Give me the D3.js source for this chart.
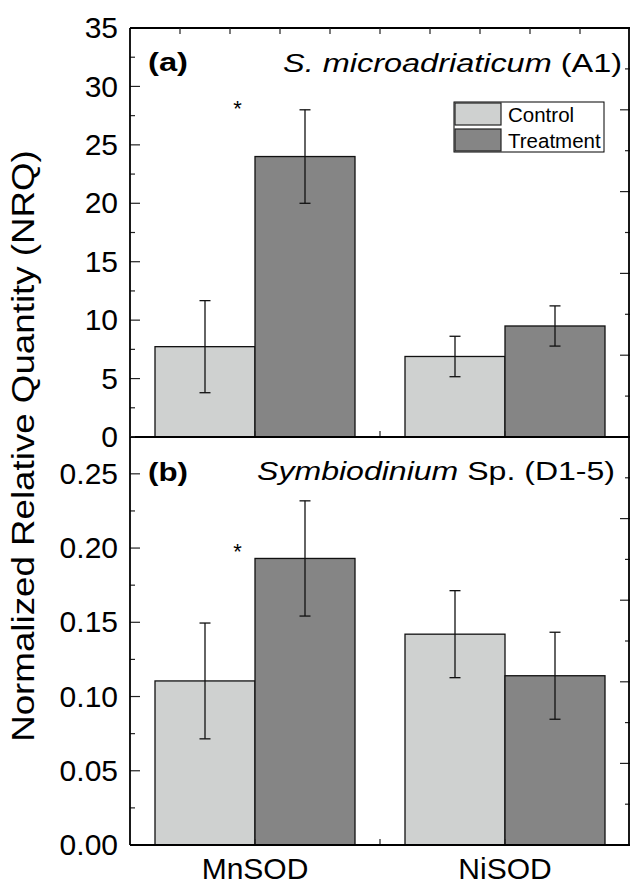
<!DOCTYPE html>
<html><head><meta charset="utf-8">
<script src="https://cdn.jsdelivr.net/npm/d3@7"></script>
<style>body{margin:0;background:#fff;} text{font-family:"Liberation Sans",Arial,sans-serif;}</style>
</head><body>
<svg id="c" width="630" height="885"></svg>
<script>
const categories = ["MnSOD", "NiSOD"];
const seriesNames = ["Control", "Treatment"];
// Panel (a) S. microadriaticum (A1)
const aControl = [7.73, 6.89];
const aControlErr = [3.94, 1.73];
const aTreatment = [24.0, 9.5];
const aTreatmentErr = [4.0, 1.72];
// Panel (b) Symbiodinium Sp. (D1-5)
const bControl = [0.1105, 0.142];
const bControlErr = [0.039, 0.0293];
const bTreatment = [0.193, 0.114];
const bTreatmentErr = [0.0388, 0.0293];
// tick labels
const aTicks = [0, 5, 10, 15, 20, 25, 30, 35];
const bTicks = [0, 0.05, 0.10, 0.15, 0.20, 0.25];
// significance markers (category index, value)
const aSig = [{cat: 0, value: 28.5}];
const bSig = [{cat: 0, value: 0.201}];

const svg = d3.select("#c");
const colors = {Control: "#cfd1d0", Treatment: "#858585"};
const L = 130, R = 630;
const x = d3.scaleLinear().domain([0.5, 2.5]).range([L, R]);
const barW = 0.4;

function panel(cfg) {
  const y = d3.scaleLinear().domain(cfg.domain).range([cfg.bottom, cfg.top]);
  const g = svg.append("g");
  const sets = [
    {name: "Control", vals: cfg.control, errs: cfg.controlErr, off: -barW},
    {name: "Treatment", vals: cfg.treatment, errs: cfg.treatmentErr, off: 0}
  ];
  sets.forEach(s => {
    g.selectAll(null).data(categories).enter().append("rect")
      .attr("x", (d, i) => x(i + 1 + s.off))
      .attr("width", x(barW) - x(0))
      .attr("y", (d, i) => y(s.vals[i]))
      .attr("height", (d, i) => y(0) - y(s.vals[i]))
      .attr("fill", colors[s.name]).attr("stroke", "#111").attr("stroke-width", 1.3);
  });
  sets.forEach(s => {
    categories.forEach((c, i) => {
      const cx = x(i + 1 + s.off + barW / 2);
      const y1 = y(s.vals[i] + s.errs[i]), y0 = y(s.vals[i] - s.errs[i]);
      g.append("line").attr("x1", cx).attr("x2", cx).attr("y1", y1).attr("y2", y0)
        .attr("stroke", "#111").attr("stroke-width", 1.3);
      [y1, y0].forEach(yy => g.append("line").attr("x1", cx - 5.5).attr("x2", cx + 5.5)
        .attr("y1", yy).attr("y2", yy).attr("stroke", "#111").attr("stroke-width", 1.3));
    });
  });
  // left axis
  const left = d3.axisLeft(y).tickValues(cfg.ticks).tickSize(0).tickPadding(12).tickFormat(cfg.fmt);
  const la = g.append("g").attr("transform", `translate(${L},0)`).call(left);
  la.select(".domain").remove();
  la.selectAll("text").attr("font-size", 30).attr("fill", "#000")
    .style("font-family", '"Liberation Sans",Arial,sans-serif');
  // inside ticks left
  const step = cfg.ticks[1] - cfg.ticks[0];
  const minor = d3.range(cfg.domain[0], cfg.domain[1] + step / 4, step / 2);
  minor.forEach((v, k) => {
    const major = k % 2 === 0;
    g.append("line").attr("x1", L).attr("x2", L + (major ? 10 : 5))
      .attr("y1", y(v)).attr("y2", y(v)).attr("stroke", "#222").attr("stroke-width", 1.2);
  });
  // right axis ticks (unlabelled secondary scale 0..10)
  const yr = d3.scaleLinear().domain([0, 10]).range([cfg.bottom, cfg.top]);
  d3.range(1, 10).forEach(v => {
    g.append("line").attr("x1", R - (v % 2 === 0 ? 10 : 5)).attr("x2", R)
      .attr("y1", yr(v)).attr("y2", yr(v)).attr("stroke", "#222").attr("stroke-width", 1.2);
  });
  // bottom inside ticks
  [1, 1.5, 2].forEach(v => {
    g.append("line").attr("x1", x(v)).attr("x2", x(v)).attr("y1", cfg.bottom).attr("y2", cfg.bottom - 6)
      .attr("stroke", "#222").attr("stroke-width", 1.2);
  });
  // frame
  g.append("line").attr("x1", L).attr("x2", L).attr("y1", cfg.top).attr("y2", cfg.bottom).attr("stroke", "#000").attr("stroke-width", 1.8);
  g.append("line").attr("x1", R - 1).attr("x2", R - 1).attr("y1", cfg.top).attr("y2", cfg.bottom).attr("stroke", "#000").attr("stroke-width", 1.8);
  g.append("line").attr("x1", L).attr("x2", R).attr("y1", cfg.bottom).attr("y2", cfg.bottom).attr("stroke", "#000").attr("stroke-width", 1.8);
  if (cfg.topLine) {
    g.append("line").attr("x1", L).attr("x2", R).attr("y1", cfg.top).attr("y2", cfg.top).attr("stroke", "#000").attr("stroke-width", 1.8);
    d3.range(0.7, 2.31, 0.2).forEach(v => {
      g.append("line").attr("x1", x(v)).attr("x2", x(v)).attr("y1", cfg.top).attr("y2", cfg.top + 6)
        .attr("stroke", "#222").attr("stroke-width", 1.2);
    });
  }
  // significance asterisks
  cfg.sig.forEach(s => {
    g.append("text").attr("x", x(s.cat + 1 - 0.07)).attr("y", y(s.value) + 12)
      .attr("text-anchor", "middle").attr("font-size", 22).text("*");
  });
  // labels
  const lab = g.append("text").attr("x", 148).attr("y", cfg.labelY)
    .attr("font-size", 26).attr("font-weight", "bold").text(cfg.label);
  fitWidth(lab, 148, 40, "start");
  const t = g.append("text").attr("x", cfg.titleRight).attr("y", cfg.titleY)
    .attr("font-size", 26).attr("text-anchor", "end");
  cfg.title.forEach(p => t.append("tspan").attr("font-style", p.it ? "italic" : "normal").text(p.t));
  fitWidth(t, cfg.titleRight, cfg.titleW, "end");
  return y;
}

function fitWidth(sel, ax, w, anchor) {
  const bw = sel.node().getBBox().width;
  const s = w / bw;
  sel.attr("transform", `translate(${ax},0) scale(${s},1) translate(${-ax},0)`);
}

panel({domain: [0, 35], top: 28, bottom: 437, control: aControl, controlErr: aControlErr,
  treatment: aTreatment, treatmentErr: aTreatmentErr, ticks: aTicks, fmt: d3.format("d"),
  topLine: true, sig: aSig, label: "(a)", labelY: 71.5,
  title: [{t: "S. microadriaticum", it: true}, {t: " (A1)", it: false}], titleRight: 622, titleY: 72, titleW: 339});
panel({domain: [0, 0.2748], top: 437, bottom: 845, control: bControl, controlErr: bControlErr,
  treatment: bTreatment, treatmentErr: bTreatmentErr, ticks: bTicks, fmt: d3.format(".2f"),
  topLine: false, sig: bSig, label: "(b)", labelY: 481.5,
  title: [{t: "Symbiodinium", it: true}, {t: " Sp. (D1-5)", it: false}], titleRight: 615, titleY: 480, titleW: 358});

// x category labels
svg.selectAll(".xl").data(categories).enter().append("text")
  .attr("x", (d, i) => x(i + 1)).attr("y", 879).attr("text-anchor", "middle")
  .attr("font-size", 30).text(d => d);

// y title (stretched along its length to match the reference span)
const yt = svg.append("text").attr("x", 0).attr("y", 0)
  .attr("text-anchor", "middle").attr("font-size", 31).text("Normalized Relative Quantity (NRQ)");
const ytw = yt.node().getBBox().width;
yt.attr("transform", `translate(34,446) rotate(-90) scale(${592 / ytw},1)`);

// legend
const lg = svg.append("g");
lg.append("rect").attr("x", 454).attr("y", 102).attr("width", 150).attr("height", 50)
  .attr("fill", "#fff").attr("stroke", "#000").attr("stroke-width", 1);
seriesNames.forEach((n, i) => {
  lg.append("rect").attr("x", 455).attr("y", 103 + i * 26).attr("width", 46).attr("height", 22)
    .attr("fill", colors[n]).attr("stroke", "#222").attr("stroke-width", 1.2);
  lg.append("text").attr("x", 508).attr("y", 122 + i * 26).attr("font-size", 20.5).text(n);
});
</script>
</body></html>
